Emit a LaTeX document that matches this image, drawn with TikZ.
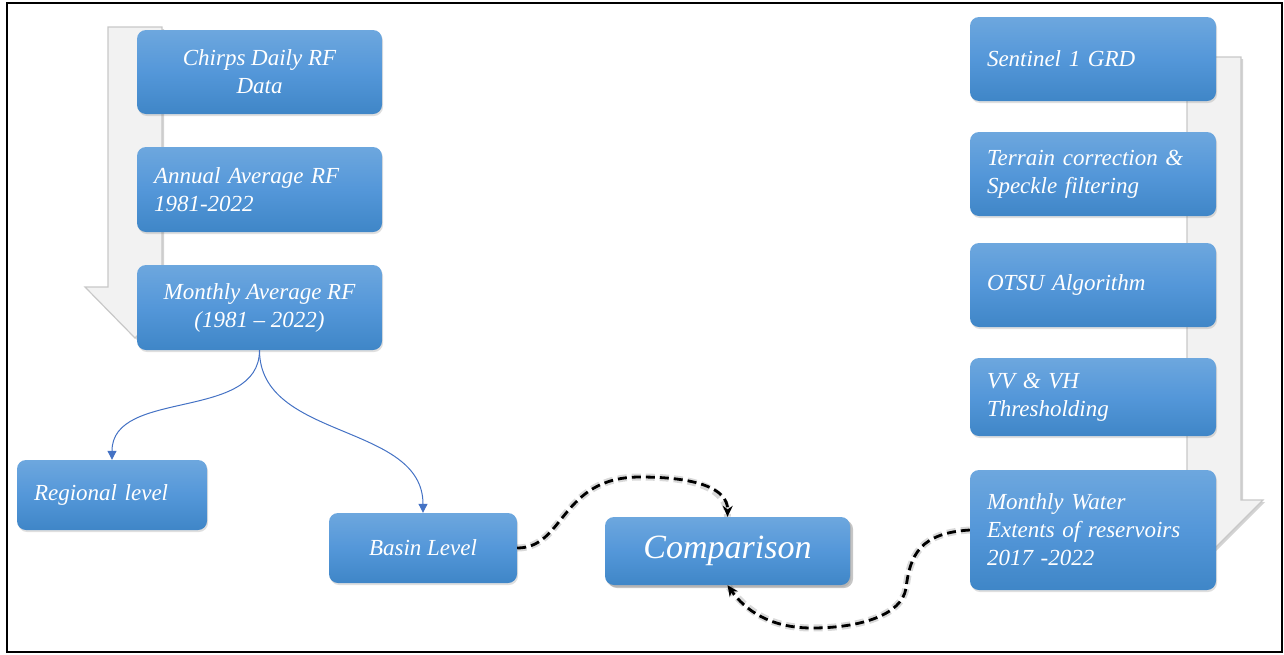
\documentclass[tikz,border=0pt]{standalone}
\usepackage{fontspec}
\setmainfont{Liberation Serif}
\usetikzlibrary{shadows,arrows.meta,calc}
\definecolor{btop}{HTML}{6DA7DE}
\definecolor{bmid}{HTML}{5497D9}
\definecolor{bbot}{HTML}{3F86C7}
\definecolor{linkblue}{HTML}{4472C4}
\definecolor{arrfill}{HTML}{F2F2F2}
\definecolor{arredge}{HTML}{C8C8C8}
\begin{document}
\begin{tikzpicture}[x=1pt,y=-1pt,
  box/.style={rounded corners=9pt, top color=btop, bottom color=bbot, middle color=bmid,
    text=white, inner sep=0pt, font=\fontsize{23}{28}\selectfont\itshape,
    drop shadow={shadow xshift=1pt,shadow yshift=-2pt,opacity=0.25}},
  cbox/.style={box, align=center},
  lbox/.style={box, align=left, inner xsep=17pt},
  grayarrow/.style={fill=arrfill, draw=arredge, line width=1.2pt,
    drop shadow={shadow xshift=2pt,shadow yshift=-2pt,opacity=0.35}},
  bluelink/.style={draw=linkblue, line width=1pt, -{Triangle[width=9pt,length=9pt]}},
  dashlink/.style={line width=2.8pt, dash pattern=on 9pt off 5pt, -{Stealth[length=11pt,width=10pt]}},
  dashglow/.style={line width=7pt, draw=black, opacity=0.15, dash pattern=on 9pt off 5pt}
]
\useasboundingbox (0,0) rectangle (1284,654);
\draw[line width=2pt] (7,3) rectangle (1282,652);

% gray background arrows
\path[grayarrow] (108,27) -- (162,27) -- (162,287) -- (185,287) -- (135,338) -- (85,287) -- (108,287) -- cycle;
\path[grayarrow] (1187,57) -- (1241,57) -- (1241,500) -- (1263,500) -- (1214,549) -- (1165,500) -- (1187,500) -- cycle;

% left column
\node[cbox, minimum width=245pt, minimum height=84pt] (chirps) at (259.5,72) {Chirps Daily RF\\Data};
\node[lbox, text width=211pt, minimum height=85pt] (annual) at (259.5,189.5) {Annual Average RF\\1981-2022};
\node[cbox, minimum width=245pt, minimum height=85pt] (monthly) at (259.5,307.5) {Monthly Average RF\\(1981 -- 2022)};
\node[lbox, text width=156pt, minimum height=70pt] (regional) at (112,495) {Regional level};
\node[cbox, minimum width=188pt, minimum height=70pt] (basin) at (423,548) {Basin Level};
\node[cbox, minimum width=245pt, minimum height=68pt, font=\fontsize{34}{40}\selectfont\itshape,
  drop shadow={shadow xshift=3pt,shadow yshift=-3pt,opacity=0.45}] (cmp) at (727.5,551) {Comparison};

% right column
\node[lbox, text width=212pt, minimum height=84pt] (s1) at (1093,59) {Sentinel 1 GRD};
\node[lbox, text width=212pt, minimum height=84pt] (s2) at (1093,174) {Terrain correction \&\\Speckle filtering};
\node[lbox, text width=212pt, minimum height=84pt] (s3) at (1093,285) {OTSU Algorithm};
\node[lbox, text width=212pt, minimum height=78pt] (s4) at (1093,397) {VV \& VH\\Thresholding};
\node[lbox, text width=212pt, minimum height=120pt] (s5) at (1093,530) {Monthly Water\\Extents of reservoirs\\2017 -2022};

% blue links
\draw[bluelink] (monthly.south) to[out=-90,in=90] (regional.north);
\draw[bluelink] (monthly.south) to[out=-90,in=90] (basin.north);

% dashed links
\coordinate (top1) at (640,477);
\coordinate (low1) at (906,588);
\coordinate (low2) at (812,628);
\draw[dashglow] (basin.east) .. controls (565,548) and (560,477) .. (top1) .. controls (695,477) and (728,488) .. (cmp.north);
\draw[dashlink] (basin.east) .. controls (565,548) and (560,477) .. (top1) .. controls (695,477) and (728,488) .. (cmp.north);
\draw[dashglow] (s5.west) .. controls (920,533) and (910,555) .. (low1) .. controls (902,615) and (860,628) .. (low2) .. controls (770,628) and (745,610) .. (cmp.south);
\draw[dashlink] (s5.west) .. controls (920,533) and (910,555) .. (low1) .. controls (902,615) and (860,628) .. (low2) .. controls (770,628) and (745,610) .. (cmp.south);
\end{tikzpicture}
\end{document}
